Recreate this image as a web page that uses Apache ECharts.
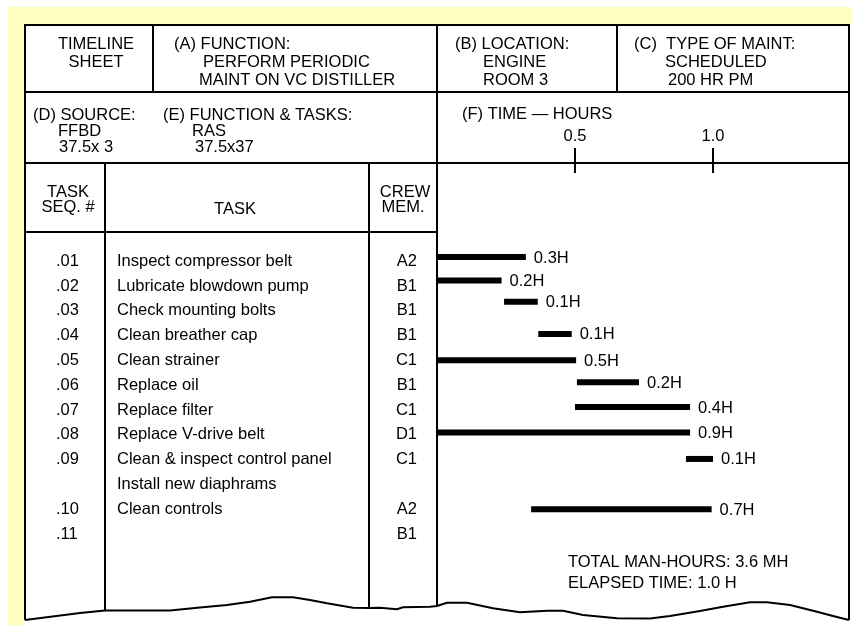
<!DOCTYPE html>
<html>
<head>
<meta charset="utf-8">
<script src="https://cdn.jsdelivr.net/npm/echarts@6/dist/echarts.min.js"></script>
<style>
html,body{margin:0;padding:0;background:#fff;}
#main{width:852px;height:625px;}
</style>
</head>
<body>
<div id="main"></div>
<script>
// ---- Data ----
const seqLabels = ['.01', '.02', '.03', '.04', '.05', '.06', '.07', '.08', '.09', '', '.10', '.11'];
const taskNames = ['Inspect compressor belt', 'Lubricate blowdown pump', 'Check mounting bolts', 'Clean breather cap',
  'Clean strainer', 'Replace oil', 'Replace filter', 'Replace V-drive belt', 'Clean & inspect control panel',
  'Install new diaphrams', 'Clean controls', ''];
const crewMembers = ['A2', 'B1', 'B1', 'B1', 'C1', 'B1', 'C1', 'D1', 'C1', '', 'A2', 'B1'];
const barStart = [0, 0, 0.243, 0.367, 0, 0.507, 0.5, 0, 0.902, 0.341];
const barEnd = [0.322, 0.234, 0.365, 0.488, 0.504, 0.732, 0.917, 0.917, 1.0, 0.995];
const barRow = [-0.11, 0.83, 1.69, 2.99, 4.05, 4.94, 5.94, 6.96, 8.03, 10.06];
const barLabels = ['0.3H', '0.2H', '0.1H', '0.1H', '0.5H', '0.2H', '0.4H', '0.9H', '0.1H', '0.7H'];
const timeTicks = [0.5, 1.0];

const FONT = 'Liberation Sans, Arial, sans-serif';
const FS = 16.5;

const chart = echarts.init(document.getElementById('main'), null, {renderer: 'canvas'});

const barData = barStart.map((s, i) => [s, barEnd[i], barRow[i], barLabels[i]]);

chart.setOption({
  animation: false,
  backgroundColor: '#ffffff',
  grid: {left: 437, top: 173, width: 414, height: 434, containLabel: false},
  xAxis: {
    type: 'value', position: 'top', min: 0, max: 1.5,
    axisLine: {show: false, onZero: false},
    splitLine: {show: false},
    axisTick: {show: true, customValues: timeTicks, length: 25, inside: false, lineStyle: {color: '#000', width: 2}},
    axisLabel: {show: true, customValues: timeTicks, margin: 28, color: '#000', fontFamily: FONT, fontSize: FS,
      formatter: v => v.toFixed(1)}
  },
  yAxis: {type: 'value', inverse: true, min: -3.5, max: 14, show: false},
  series: [{
    type: 'custom',
    clip: false,
    data: barData,
    encode: {x: [0, 1], y: 2},
    renderItem: function (params, api) {
      const a = api.coord([api.value(0), api.value(2)]);
      const b = api.coord([api.value(1), api.value(2)]);
      const h = 6;
      return {
        type: 'group',
        children: [
          {type: 'rect', shape: {x: a[0], y: a[1] - h / 2, width: b[0] - a[0], height: h}, style: {fill: '#000'}},
          {type: 'text', x: b[0] + 8, y: b[1] + 1, style: {text: barData[params.dataIndex][3], fill: '#000',
            font: FS + 'px ' + FONT, verticalAlign: 'middle', align: 'left'}}
        ]
      };
    },
    z: 3
  }]
});

// ---- Decoration & table text ----
function txt(x, y, s, align) {
  return {type: 'text', x: x, y: y, z: 10, style: {text: s, fill: '#000', font: FS + 'px ' + FONT,
    align: align || 'left', verticalAlign: 'middle'}};
}
function line(x1, y1, x2, y2, w) {
  return {type: 'line', z: 5, shape: {x1: x1, y1: y1, x2: x2, y2: y2}, style: {stroke: '#000', lineWidth: w || 2}};
}
const wave = [[25,620],[80,613],[105,610.5],[170,610.5],[200,607.5],[227,605],[250,601.7],[272,597.3],[293,597.3],
  [310,600],[327,603.3],[353,607.7],[369,608],[380,607.7],[397,609.3],[403,607.3],[430,606.7],[437,606],[447,602.7],
  [467,602.7],[493,608.3],[520,612.3],[547,610.7],[563,610.7],[583,615],[617,618.3],[650,618.5],[670,616],[700,611],
  [723,606.7],[750,602.3],[767,602.3],[790,605],[817,611.7],[833,616],[849,620]];

const g = [
  {type: 'rect', z: 0, shape: {x: 8, y: 7, width: 844, height: 18}, style: {fill: '#ffffc0'}},
  {type: 'rect', z: 0, shape: {x: 8, y: 7, width: 17, height: 618}, style: {fill: '#ffffc0'}},
  line(25, 25, 849, 25), line(25, 24, 25, 620), line(849, 24, 849, 620),
  line(25, 92, 849, 92), line(25, 163, 849, 163), line(25, 232, 437, 232),
  line(153, 25, 153, 92), line(617, 25, 617, 92), line(437, 25, 437, 606),
  line(105, 163, 105, 610.5), line(369, 163, 369, 608),
  {type: 'polyline', z: 5, shape: {points: wave}, style: {stroke: '#000', lineWidth: 2, fill: null}},
  // header row 1
  txt(96, 44, 'TIMELINE', 'center'), txt(96, 62, 'SHEET', 'center'),
  txt(174, 44, '(A) FUNCTION:'), txt(203, 62, 'PERFORM PERIODIC'), txt(199, 80, 'MAINT ON VC DISTILLER'),
  txt(455, 44, '(B) LOCATION:'), txt(483, 62, 'ENGINE'), txt(483, 80, 'ROOM 3'),
  txt(634, 44, '(C)  TYPE OF MAINT:'), txt(665, 62, 'SCHEDULED'), txt(668, 80, '200 HR PM'),
  // header row 2
  txt(33, 115, '(D) SOURCE:'), txt(58, 131, 'FFBD'), txt(59, 147, '37.5x 3'),
  txt(163, 115, '(E) FUNCTION & TASKS:'), txt(192, 131, 'RAS'), txt(195, 147, '37.5x37'),
  txt(462, 114, '(F) TIME \u2014 HOURS'),
  // column headers
  txt(68, 192, 'TASK', 'center'), txt(68, 207, 'SEQ. #', 'center'),
  txt(235, 209, 'TASK', 'center'),
  txt(405, 192, 'CREW', 'center'), txt(403, 207, 'MEM.', 'center'),
  // totals
  txt(568, 562, 'TOTAL MAN-HOURS: 3.6 MH'), txt(568, 583, 'ELAPSED TIME: 1.0 H')
];

for (let r = 0; r < taskNames.length; r++) {
  const y = chart.convertToPixel({yAxisIndex: 0}, r) + 1.5;
  if (seqLabels[r]) g.push(txt(56, y, seqLabels[r]));
  if (taskNames[r]) g.push(txt(117, y, taskNames[r]));
  if (crewMembers[r]) g.push(txt(417, y, crewMembers[r], 'right'));
}

chart.setOption({graphic: {elements: g}});
</script>
</body>
</html>
